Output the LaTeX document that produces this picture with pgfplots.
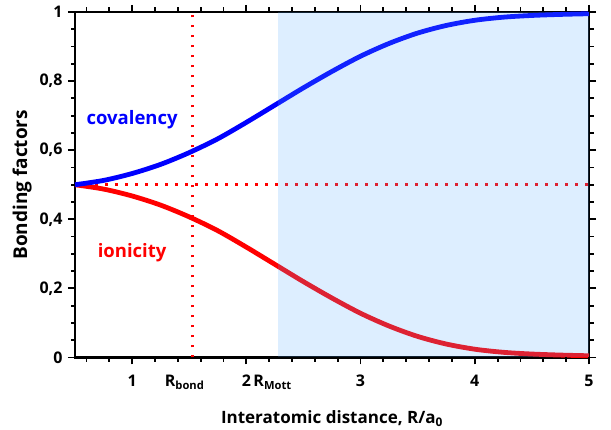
\documentclass[border=0pt]{standalone}
\usepackage{fontspec}
\setmainfont{Open Sans}
\usepackage{pgfplots}
\pgfplotsset{compat=1.18}

\definecolor{shade}{RGB}{85,170,255}
\definecolor{cov}{RGB}{0,0,255}
\definecolor{ion}{RGB}{255,0,0}

\begin{document}
\begin{tikzpicture}
\begin{axis}[
    at={(0,0)}, anchor=south west,
    scale only axis,
    width=514bp, height=345.5bp,
    xmin=0.5, xmax=5,
    ymin=0, ymax=1,
    clip=false,
    xtick={1,2,3,4,5},
    ytick={0,0.2,0.4,0.6,0.8,1},
    extra x ticks={1.46,2.23},
    extra x tick labels={R\textsubscript{bond},R\textsubscript{Mott}},
    extra x tick style={xtick style={draw=none}},
    tick align=outside,
    major tick length=7bp,
    tick style={black, line width=1.8bp},
    axis line style={line width=2.6bp},
    /pgf/number format/assume math mode=true,
    /pgf/number format/use comma,
    ticklabel style={font=\fontsize{16bp}{19bp}\selectfont\bfseries},
    xticklabel style={yshift=-7bp},
    yticklabel style={xshift=-2bp},
    xlabel={Interatomic distance, R/a\textsubscript{0}},
    ylabel={Bonding factors},
    xlabel style={font=\fontsize{17bp}{20bp}\selectfont\bfseries, yshift=-3bp},
    ylabel style={font=\fontsize{19bp}{22bp}\selectfont\bfseries, yshift=1bp},
  ]
  % ionicity
  \addplot[ion, line width=4.8bp, smooth] coordinates {
    (0.50,0.500)(0.75,0.4875)(1.00,0.4675)(1.25,0.441)(1.50,0.407)
    (1.75,0.367)(2.00,0.3195)(2.25,0.2695)(2.50,0.2195)(2.75,0.172)
    (3.00,0.128)(3.25,0.091)(3.50,0.061)(3.75,0.039)(4.00,0.024)
    (4.25,0.015)(4.50,0.010)(4.75,0.007)(5.00,0.005)
  };
  % reference lines
  \addplot[ion, line width=2.6bp, dash pattern=on 2.6bp off 7.4bp] coordinates {(0.5,0.5)(5,0.5)};
  \addplot[ion, line width=2.6bp, dash pattern=on 2.6bp off 7.4bp] coordinates {(1.53,0)(1.53,1)};
  % covalency
  \addplot[cov, line width=4.8bp, smooth] coordinates {
    (0.50,0.500)(0.75,0.5125)(1.00,0.5325)(1.25,0.559)(1.50,0.593)
    (1.75,0.633)(2.00,0.6805)(2.25,0.7305)(2.50,0.7805)(2.75,0.828)
    (3.00,0.872)(3.25,0.909)(3.50,0.939)(3.75,0.961)(4.00,0.976)
    (4.25,0.985)(4.50,0.990)(4.75,0.993)(5.00,0.995)
  };
  % Mott region
  \addplot[draw=none, fill=shade, fill opacity=0.2] coordinates {(2.28,0)(2.28,1)(5,1)(5,0)} -- cycle;
  \node[cov, font=\fontsize{18.5bp}{22bp}\selectfont\bfseries] at (axis cs:1.0,0.687) {covalency};
  \node[ion, font=\fontsize{18.5bp}{22bp}\selectfont\bfseries] at (axis cs:1.0,0.302) {ionicity};
\end{axis}
% tick marks on all four sides (axis box is 514 x 345.5 bp, x from 0.5 to 5)
\begin{scope}[x=1bp, y=1bp, line width=1.8bp]
  % bottom
  \foreach \v in {1,2,3,4,5}
    \draw ({(\v-0.5)*114.222},0) -- ({(\v-0.5)*114.222},-7);
  \foreach \v in {0.6,0.8,1.2,1.4,1.6,1.8,2.2,2.4,2.6,2.8,3.2,3.4,3.6,3.8,4.2,4.4,4.6,4.8}
    \draw ({(\v-0.5)*114.222},0) -- ({(\v-0.5)*114.222},-4.5);
  % top
  \foreach \v in {1,2,3,4,5}
    \draw ({(\v-0.5)*114.222},345.5) -- ({(\v-0.5)*114.222},352.5);
  \foreach \v in {0.6,0.8,1.2,1.4,1.6,1.8,2.2,2.4,2.6,2.8,3.2,3.4,3.6,3.8,4.2,4.4,4.6,4.8}
    \draw ({(\v-0.5)*114.222},345.5) -- ({(\v-0.5)*114.222},350);
  % left
  \foreach \v in {0,0.2,0.4,0.6,0.8,1}
    \draw (0,{\v*345.5}) -- (-7,{\v*345.5});
  \foreach \v in {0.05,0.1,0.15,0.25,0.3,0.35,0.45,0.5,0.55,0.65,0.7,0.75,0.85,0.9,0.95}
    \draw (0,{\v*345.5}) -- (-4.5,{\v*345.5});
  % right
  \foreach \v in {0,0.2,0.4,0.6,0.8,1}
    \draw (514,{\v*345.5}) -- (521,{\v*345.5});
  \foreach \v in {0.05,0.1,0.15,0.25,0.3,0.35,0.45,0.5,0.55,0.65,0.7,0.75,0.85,0.9,0.95}
    \draw (514,{\v*345.5}) -- (518.5,{\v*345.5});
\end{scope}
\path (-75bp,-66.5bp) rectangle (536bp,357.5bp);
\end{tikzpicture}
\end{document}
